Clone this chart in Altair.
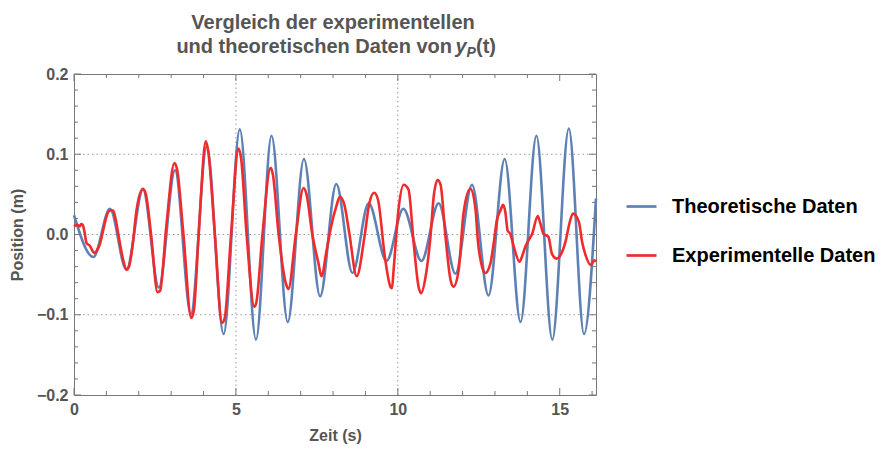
import altair as alt
import pandas as pd

# ---------------- data ----------------
series_names = ["Theoretische Daten", "Experimentelle Daten"]
series_colors = ["#5E81B5", "#EF2B2D"]

theo_t = [0.00, 0.60, 1.11, 1.62, 2.13, 2.62, 3.12, 3.61, 4.10, 4.62, 5.12, 5.62,
          6.10, 6.60, 7.10, 7.60, 8.10, 8.60, 9.10, 9.65, 10.17, 10.73, 11.26,
          11.78, 12.29, 12.80, 13.30, 13.79, 14.28, 14.77, 15.28, 15.75, 16.12]
theo_y = [0.024, -0.028, 0.032, -0.044, 0.056, -0.066, 0.080, -0.099, 0.110,
          -0.124, 0.131, -0.131, 0.123, -0.109, 0.094, -0.077, 0.063, -0.048,
          0.039, -0.033, 0.032, -0.033, 0.039, -0.049, 0.062, -0.076, 0.094,
          -0.109, 0.123, -0.131, 0.132, -0.124, 0.045]

exp_t = [0.00, 0.10, 0.18, 0.22, 0.27, 0.32, 0.39, 0.49, 0.58, 0.64, 0.72, 0.80,
         0.90, 1.00, 1.11, 1.21, 1.27, 1.37, 1.52, 1.62, 1.70, 1.82, 1.93, 2.13,
         2.22, 2.38, 2.58, 2.66, 2.85, 3.10, 3.18, 3.38, 3.62, 3.70, 3.85, 4.07,
         4.14, 4.35, 4.57, 4.65, 4.85, 5.08, 5.16, 5.33, 5.57, 5.63, 5.82, 6.07,
         6.14, 6.32, 6.55, 6.62, 6.85, 7.09, 7.18, 7.36, 7.55, 7.64, 7.80, 7.94,
         8.10, 8.21, 8.35, 8.50, 8.73, 8.97, 9.12, 9.27, 9.39, 9.60, 9.77, 9.82,
         9.87, 10.02, 10.18, 10.33, 10.49, 10.64, 10.72, 10.86, 11.01, 11.11,
         11.23, 11.32, 11.47, 11.63, 11.72, 11.88, 12.03, 12.24, 12.40, 12.47,
         12.60, 12.70, 12.86, 12.96, 13.06, 13.17, 13.25, 13.32, 13.39, 13.47,
         13.58, 13.76, 13.83, 13.94, 14.04, 14.15, 14.32, 14.40, 14.50, 14.65,
         14.76, 14.90, 15.02, 15.19, 15.30, 15.41, 15.59, 15.69, 15.80, 15.96,
         16.07, 16.12]
exp_y = [0.010, 0.012, 0.010, 0.013, 0.012, 0.004, -0.011, -0.014, -0.021,
         -0.023, -0.019, -0.012, 0.005, 0.022, 0.030, 0.030, 0.022, 0.000,
         -0.032, -0.044, -0.040, -0.010, 0.030, 0.057, 0.050, 0.000, -0.072,
         -0.070, 0.010, 0.089, 0.082, 0.000, -0.104, -0.095, 0.000, 0.116,
         0.105, 0.000, -0.110, -0.105, 0.000, 0.107, 0.095, 0.000, -0.090,
         -0.085, 0.000, 0.083, 0.075, 0.000, -0.062, -0.068, 0.000, 0.058,
         0.050, 0.000, -0.036, -0.052, -0.020, 0.010, 0.035, 0.047, 0.037,
         0.002, -0.052, -0.003, 0.039, 0.052, 0.043, -0.028, -0.065, -0.067,
         -0.044, 0.031, 0.062, 0.056, -0.011, -0.065, -0.073, -0.052, -0.002,
         0.048, 0.068, 0.062, -0.002, -0.057, -0.065, -0.044, 0.027, 0.057,
         0.031, -0.007, -0.040, -0.048, -0.036, -0.011, 0.018, 0.030, 0.037,
         0.028, 0.005, 0.001, -0.015, -0.034, -0.028, -0.015, -0.007, 0.001,
         0.023, 0.014, 0.001, -0.003, -0.024, -0.030, -0.026, -0.007, 0.014,
         0.026, 0.016, -0.009, -0.026, -0.038, -0.032, -0.034]

x_domain = [0, 16.12]
y_domain = [-0.2, 0.2]
x_labels = [0, 5, 10, 15]
x_minor = [1, 2, 3, 4, 6, 7, 8, 9, 11, 12, 13, 14, 16]
y_labels = [-0.2, -0.1, 0.0, 0.1, 0.2]
y_minor = [-0.18, -0.16, -0.14, -0.12, -0.08, -0.06, -0.04, -0.02,
           0.02, 0.04, 0.06, 0.08, 0.12, 0.14, 0.16, 0.18]
x_grid = [5, 10]
y_grid = [-0.1, 0.0, 0.1]

title_line1 = "Vergleich der experimentellen"
title_line2 = "und theoretischen Daten von "

# ---------------- styling ----------------
W, H = 522, 321
FONT = "Liberation Sans"
GRAY = "#555555"
FRAME = "#777777"

xs = alt.Scale(domain=x_domain, nice=False, zero=False)
ys = alt.Scale(domain=y_domain, nice=False, zero=False)
cs = alt.Scale(domain=series_names, range=series_colors)

theo_df = pd.DataFrame({"t": theo_t, "y": theo_y, "s": series_names[0]})
exp_df = pd.DataFrame({"t": exp_t, "y": exp_y, "s": series_names[1]})

x_axis = alt.Axis(values=x_labels, format="d", title="Zeit (s)", labelPadding=6,
                  titlePadding=10, labelFlush=False)
y_axis = alt.Axis(values=y_labels, format=".1f", title="Position (m)",
                  labelPadding=6, titlePadding=11, labelFlush=False)
legend = alt.Legend(title=None, orient="none", direction="vertical",
                    legendX=551, legendY=116, symbolType="stroke",
                    symbolSize=900, symbolStrokeWidth=2.7, labelFontSize=20,
                    labelFont=FONT, labelFontWeight="bold", labelColor="black",
                    rowPadding=22, labelOffset=14, padding=0, labelLimit=400)


def X(field):
    return alt.X(field, scale=xs, axis=x_axis)


def Y(field):
    return alt.Y(field, scale=ys, axis=y_axis)


def line_layer(df):
    return alt.Chart(df).mark_line(strokeWidth=2.6, interpolate="monotone").encode(
        x=X("t:Q"),
        y=Y("y:Q"),
        color=alt.Color("s:N", scale=cs, legend=legend),
        order=alt.Order("t:Q"),
    )


one = pd.DataFrame({"a": [0]})

grid_h = alt.Chart(pd.DataFrame({"v": y_grid})).mark_rule(
    color="#9a9a9a", strokeDash=[1.5, 3], strokeWidth=1).encode(
    y=Y("v:Q"), x=alt.value(0), x2=alt.value(W))
grid_v = alt.Chart(pd.DataFrame({"v": x_grid})).mark_rule(
    color="#9a9a9a", strokeDash=[1.5, 3], strokeWidth=1).encode(
    x=X("v:Q"), y=alt.value(0), y2=alt.value(H))


def yticks(vals, a, b):
    return alt.Chart(pd.DataFrame({"v": vals})).mark_rule(
        color=FRAME, strokeWidth=1).encode(
        y=Y("v:Q"), x=alt.value(a), x2=alt.value(b))


def xticks(vals, a, b):
    return alt.Chart(pd.DataFrame({"v": vals})).mark_rule(
        color=FRAME, strokeWidth=1).encode(
        x=X("v:Q"), y=alt.value(a), y2=alt.value(b))


MJ, MN = 7, 4
ticks = [
    yticks(y_labels, 0, MJ), yticks(y_minor, 0, MN),
    yticks(y_labels, W - MJ, W), yticks(y_minor, W - MN, W),
    xticks(x_labels, H - MJ, H), xticks(x_minor, H - MN, H),
    xticks(x_labels, 0, MJ), xticks(x_minor, 0, MN),
]


def txt(text, x, y, align, size=20, style="normal", baseline="alphabetic"):
    return alt.Chart(one).mark_text(
        text=text, align=align, baseline=baseline, font=FONT, fontSize=size,
        fontWeight="bold", fontStyle=style, color=GRAY).encode(
        x=alt.value(x), y=alt.value(y))


titles = [
    txt(title_line1, 259, -45, "center"),
    txt(title_line2, 378, -21, "right"),
    txt("y", 381.5, -21, "left", style="italic"),
    txt("P", 392.5, -17, "left", size=14, style="italic"),
    txt("(t)", 402, -21, "left"),
]

chart = alt.layer(
    grid_h, grid_v, line_layer(theo_df), line_layer(exp_df), *ticks, *titles
).properties(
    width=W, height=H,
    autosize=alt.AutoSizeParams(type="none"),
    padding={"left": 66, "top": 66, "right": 287, "bottom": 49},
).configure_view(
    stroke=FRAME, strokeWidth=1
).configure_axis(
    domain=False, ticks=False, tickSize=0, grid=False,
    labelFont=FONT, labelFontSize=16, labelFontWeight="bold", labelColor=GRAY,
    titleFont=FONT, titleFontSize=16, titleFontWeight="bold", titleColor=GRAY,
)

chart.save("out.html", embed_options={"renderer": "svg", "actions": False})
